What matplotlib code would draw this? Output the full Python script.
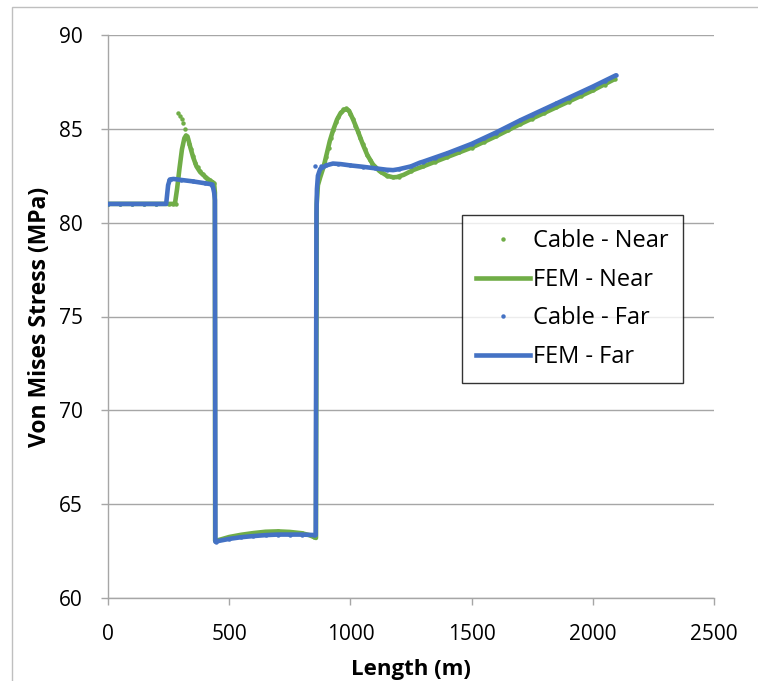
import matplotlib
matplotlib.use("Agg")
import matplotlib.pyplot as plt
from matplotlib.patches import Rectangle
from matplotlib.lines import Line2D

plt.rcParams['font.family'] = ['Open Sans', 'DejaVu Sans']

# ---------------- data ----------------
fem_near_x = [0, 100, 200, 265, 276, 285, 295, 305, 315, 322, 330, 340, 351, 365, 380, 392,
              410, 425, 433, 438, 441, 442, 460, 500, 550, 600, 650, 700, 750, 800, 830,
              855, 858, 861, 866, 875, 890, 903, 915, 928, 945, 960, 975, 985, 995, 1011,
              1030, 1052, 1070, 1093, 1120, 1151, 1175, 1192, 1220, 1258, 1300, 1400, 1500,
              1600, 1700, 1800, 1900, 2000, 2090]
fem_near_y = [81.0, 81.0, 81.0, 81.0, 81.0, 81.8, 82.9, 83.9, 84.5, 84.65, 84.5, 84.0, 83.5,
              83.0, 82.7, 82.55, 82.35, 82.2, 82.15, 82.05, 81.6, 63.05, 63.1, 63.25, 63.37,
              63.46, 63.53, 63.55, 63.52, 63.45, 63.35, 63.22, 63.2, 81.0, 82.0, 82.4, 83.0,
              83.7, 84.35, 84.9, 85.5, 85.85, 86.02, 86.05, 85.95, 85.5, 84.9, 84.15, 83.6,
              83.1, 82.75, 82.5, 82.42, 82.43, 82.55, 82.8, 83.0, 83.5, 84.0, 84.6, 85.25,
              85.85, 86.45, 87.05, 87.65]

cable_near_x = [0, 50, 100, 150, 200, 250, 270, 280, 289, 297, 305, 311, 318, 325, 333, 341,
                350, 360, 370, 380, 390, 400, 410, 420, 430, 438, 445, 500, 550, 600, 650,
                700, 750, 800, 850, 870, 880, 890, 900, 910, 920, 930, 940, 950, 960, 970,
                980, 990, 1000, 1010, 1020, 1030, 1040, 1050, 1060, 1070, 1080, 1090, 1100,
                1125, 1150, 1175, 1200, 1250, 1300, 1350, 1400, 1450, 1500, 1550, 1600, 1650,
                1700, 1750, 1800, 1850, 1900, 1950, 2000, 2050, 2090]
cable_near_y = [81.0, 81.0, 81.0, 81.0, 81.0, 81.0, 81.0, 81.0, 85.85, 85.7, 85.5, 85.3, 85.0,
                84.6, 84.2, 83.9, 83.55, 83.2, 82.95, 82.75, 82.6, 82.45, 82.35, 82.25, 82.15,
                82.1, 63.05, 63.25, 63.37, 63.46, 63.53, 63.55, 63.52, 63.45, 63.25, 82.6,
                82.8, 83.1, 83.5, 84.0, 84.5, 84.95, 85.35, 85.65, 85.9, 86.05, 86.1, 86.0,
                85.8, 85.5, 85.15, 84.85, 84.5, 84.2, 83.9, 83.6, 83.35, 83.15, 82.95, 82.7,
                82.5, 82.42, 82.45, 82.75, 83.0, 83.25, 83.5, 83.75, 84.0, 84.3, 84.6, 84.92,
                85.25, 85.55, 85.85, 86.15, 86.45, 86.75, 87.05, 87.35, 87.65]

fem_far_x = [0, 100, 200, 240, 244, 248, 255, 270, 300, 350, 400, 425, 433, 438, 441, 443,
             460, 500, 550, 600, 650, 700, 750, 800, 840, 857, 860, 862, 866, 875, 900, 928,
             960, 1000, 1050, 1100, 1150, 1176, 1200, 1250, 1287, 1300, 1400, 1500, 1600,
             1700, 1800, 1900, 2000, 2095]
fem_far_y = [81.0, 81.0, 81.0, 81.0, 81.5, 82.0, 82.3, 82.33, 82.28, 82.2, 82.1, 82.05, 81.9,
             81.6, 81.2, 63.0, 63.05, 63.15, 63.24, 63.3, 63.35, 63.38, 63.38, 63.38, 63.36,
             63.35, 80.5, 81.8, 82.5, 82.85, 83.05, 83.15, 83.12, 83.05, 82.98, 82.9, 82.82,
             82.8, 82.85, 83.0, 83.2, 83.25, 83.7, 84.2, 84.8, 85.45, 86.05, 86.65, 87.25,
             87.85]

cable_far_x = [0, 50, 100, 150, 200, 250, 260, 300, 350, 400, 430, 445, 500, 550, 600, 650,
               700, 750, 800, 850, 855, 880, 900, 950, 1000, 1050, 1100, 1150, 1200, 1250,
               1300, 1350, 1400, 1450, 1500, 1550, 1600, 1650, 1700, 1750, 1800, 1850, 1900,
               1950, 2000, 2050, 2095]
cable_far_y = [81.0, 81.0, 81.0, 81.0, 81.0, 82.3, 82.33, 82.28, 82.2, 82.1, 82.05, 63.0, 63.15,
               63.24, 63.3, 63.35, 63.38, 63.38, 63.38, 63.35, 83.0, 83.0, 83.05, 83.12, 83.05,
               82.98, 82.9, 82.82, 82.85, 83.0, 83.25, 83.47, 83.7, 83.95, 84.2, 84.5, 84.8,
               85.12, 85.45, 85.75, 86.05, 86.35, 86.65, 86.95, 87.25, 87.55, 87.85]

x_ticks = [0, 500, 1000, 1500, 2000, 2500]
y_ticks = [60, 65, 70, 75, 80, 85, 90]

GREEN = '#70AD47'
BLUE = '#4472C4'
GRID = '#A6A6A6'
MS = 3.2
LW = 3.3

# ---------------- figure ----------------
fig = plt.figure(figsize=(7.58, 6.81), dpi=100)
fig.patch.set_facecolor('white')
fig.add_artist(Rectangle((12 / 758, -0.1), 1.2, 1 - 7 / 681 + 0.1, transform=fig.transFigure,
                         fill=False, edgecolor='#BFBFBF', linewidth=1.0))

ax = fig.add_axes([108 / 758, 1 - 598 / 681, (714 - 108) / 758, (598 - 35) / 681])

ax.plot(cable_near_x, cable_near_y, linestyle='none', marker='o', markersize=MS,
        markeredgewidth=0, color=GREEN, label='Cable - Near', zorder=3)
ax.plot(fem_near_x, fem_near_y, color=GREEN, linewidth=LW, label='FEM - Near',
        solid_joinstyle='round', solid_capstyle='round', zorder=4)
ax.plot(cable_far_x, cable_far_y, linestyle='none', marker='o', markersize=MS,
        markeredgewidth=0, color=BLUE, label='Cable - Far', zorder=5)
ax.plot(fem_far_x, fem_far_y, color=BLUE, linewidth=LW, label='FEM - Far',
        solid_joinstyle='round', solid_capstyle='round', zorder=6)

ax.set_xlim(0, 2500)
ax.set_ylim(60, 90)
ax.set_xticks(x_ticks)
ax.set_yticks(y_ticks)
ax.tick_params(axis='both', labelsize=15, colors='black', length=5, width=1, direction='out')
ax.tick_params(axis='both', color=GRID)
ax.tick_params(axis='x', pad=14)
ax.tick_params(axis='y', pad=13)

ax.yaxis.grid(True, color=GRID, linewidth=1.0)
ax.set_axisbelow(True)
for s in ['top', 'right']:
    ax.spines[s].set_visible(False)
for s in ['left', 'bottom']:
    ax.spines[s].set_color(GRID)
    ax.spines[s].set_linewidth(1.0)

ax.set_xlabel('Length (m)', fontsize=16, fontweight='bold', labelpad=10)
ax.set_ylabel('Von Mises Stress (MPa)', fontsize=16.5, fontweight='bold', labelpad=5)

handles = [
    Line2D([], [], linestyle='none', marker='o', markersize=MS, markeredgewidth=0, color=GREEN),
    Line2D([], [], color=GREEN, linewidth=LW),
    Line2D([], [], linestyle='none', marker='o', markersize=MS, markeredgewidth=0, color=BLUE),
    Line2D([], [], color=BLUE, linewidth=LW),
]
labels = ['Cable - Near', 'FEM - Near', 'Cable - Far', 'FEM - Far']
leg = ax.legend(handles, labels, loc='upper left',
                bbox_to_anchor=((462 - 108) / 606, (598 - 215) / 563),
                fontsize=17, frameon=True, fancybox=False, shadow=False,
                handlelength=2.3, handletextpad=0.1, labelspacing=0.62,
                borderpad=0.6, borderaxespad=0)
leg.get_frame().set_edgecolor('black')
leg.get_frame().set_linewidth(1.0)
leg.set_zorder(10)

fig.savefig('out.png', dpi=100, facecolor='white')
